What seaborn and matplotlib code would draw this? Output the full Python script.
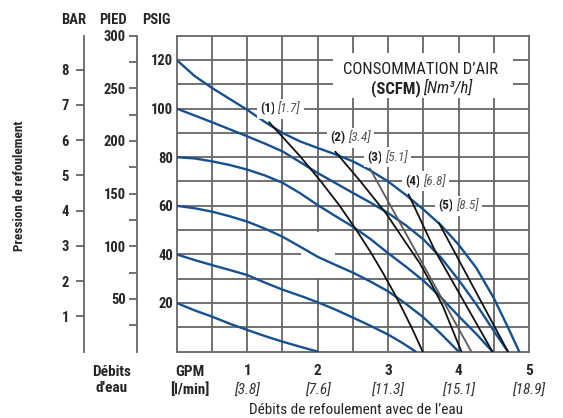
import matplotlib
matplotlib.use("Agg")
import matplotlib.pyplot as plt
from matplotlib import font_manager
from matplotlib.patches import Rectangle
from matplotlib.ticker import FixedLocator
import numpy as np
import seaborn as sns

# pump curves, one per air inlet pressure (psig) : flow in GPM, outlet pressure in PSIG
gpm_120 = [0, 0.25, 0.5, 0.75, 1.0, 1.25, 1.5, 1.75, 2.0, 2.25, 2.5, 2.75, 3.0, 3.25, 3.5, 3.75, 4.0, 4.25, 4.5, 4.7, 4.86]
psi_120 = [120, 113.5, 108.5, 104, 99.5, 94.5, 90, 86.5, 83.8, 81.2, 78.3, 74.5, 70, 64.5, 58.5, 52, 44, 34.5, 22, 10, 0]
gpm_100 = [0, 0.25, 0.5, 0.75, 1.0, 1.25, 1.5, 1.75, 2.0, 2.25, 2.5, 2.75, 3.0, 3.25, 3.5, 3.75, 4.0, 4.25, 4.5, 4.7]
psi_100 = [100, 97.2, 94.4, 91.5, 88.6, 85.6, 82.4, 78, 73.5, 69.4, 65.3, 61.3, 57, 52, 46.2, 38.7, 29.5, 19.5, 8.5, 0]
gpm_80 = [0, 0.25, 0.5, 0.75, 1.0, 1.25, 1.5, 1.75, 2.0, 2.25, 2.5, 2.75, 3.0, 3.25, 3.5, 3.75, 4.0, 4.25, 4.48]
psi_80 = [80, 79.5, 78.3, 76.8, 74.9, 72.5, 69.5, 65.2, 60.3, 55.8, 51.4, 46.3, 40.5, 35, 29.2, 22.3, 14.6, 7.3, 0]
gpm_60 = [0, 0.25, 0.5, 0.75, 1.0, 1.25, 1.5, 1.75, 2.0, 2.25, 2.5, 2.75, 3.0, 3.25, 3.5, 3.75, 4.0]
psi_60 = [60, 59, 57.6, 55.7, 53.5, 50.6, 47.3, 43.2, 39, 35.7, 32.5, 28.8, 24.8, 19.7, 14.1, 7.3, 0]
gpm_40 = [0, 0.25, 0.5, 0.75, 1.0, 1.25, 1.5, 1.75, 2.0, 2.25, 2.5, 2.75, 3.0, 3.2, 3.39]
psi_40 = [40, 37.7, 35.6, 33.6, 31.5, 28.4, 25.5, 23, 20.3, 17.3, 14, 10.6, 7, 3.6, 0]
gpm_20 = [0, 0.25, 0.5, 0.75, 1.0, 1.25, 1.5, 1.75, 2.0]
psi_20 = [20, 17, 14.4, 11.5, 8.9, 6.4, 4.1, 2, 0]

# air consumption lines (1)..(5)
gpm_air1 = [1.31, 1.5, 1.75, 2.03, 2.3, 2.55, 2.75, 2.93, 3.1, 3.21, 3.35, 3.49]
psi_air1 = [94.4, 88.4, 80.4, 70.6, 60.5, 50, 41, 32.2, 23.3, 17.1, 8.9, 0]
gpm_air2 = [2.25, 2.6, 2.97, 3.2, 3.45, 3.62, 3.78, 4.04]
psi_air2 = [82.3, 70.3, 56.9, 47, 36.3, 27.5, 18.5, 0]
gpm_air3 = [2.74, 4.18]
psi_air3 = [75.4, 0]
gpm_air4 = [3.29, 3.66, 4.48]
psi_air4 = [64.7, 41.8, 0]
gpm_air5 = [3.72, 4.70]
psi_air5 = [53, 0]

air_scfm = ["(1)", "(2)", "(3)", "(4)", "(5)"]
air_nm3 = ["[1.7]", "[3.4]", "[5.1]", "[6.8]", "[8.5]"]
label_gpm = [1.41, 2.41, 2.93, 3.47, 3.94]
label_psi = [100, 88, 80, 70, 60]

gpm_ticks = [1, 2, 3, 4, 5]
lpm_labels = ["[3.8]", "[7.6]", "[11.3]", "[15.1]", "[18.9]"]
psig_ticks = [20, 40, 60, 80, 100, 120]
ft_major = [50, 100, 150, 200, 250, 300]
ft_minor = [25, 75, 125, 175, 225, 275]
bar_ticks = [1, 2, 3, 4, 5, 6, 7, 8]

sns.set_theme(style="white")
names = {f.name for f in font_manager.fontManager.ttflist}
narrow = next((n for n in ["Liberation Sans Narrow", "Roboto Condensed", "Liberation Sans"] if n in names), "DejaVu Sans")
plt.rcParams["font.family"] = [narrow, "DejaVu Sans"]

grid_c = "#666666"
blue = "#17508e"

fig = plt.figure(figsize=(5.63, 4.18), dpi=100)
ax = fig.add_axes([0.3139, 0.1589, 0.6258, 0.7557])
ax.set_xlim(0, 5)
ax.set_ylim(0, 130)

for s in ax.spines.values():
    s.set_color(grid_c)
    s.set_linewidth(1.3)
ax.set_yticks(psig_ticks, [str(t) for t in psig_ticks], fontweight="bold", fontsize=10.5)
ax.set_xticks(gpm_ticks, [str(t) for t in gpm_ticks], fontweight="bold", fontsize=11)
ax.tick_params(which="both", length=0)
ax.tick_params(axis="y", pad=2.5)
ax.tick_params(axis="x", pad=9)
for x, lab in zip(gpm_ticks, lpm_labels):
    ax.text(x, -0.125, lab, transform=ax.get_xaxis_transform(), ha="center", va="center",
            style="italic", fontsize=11, color="#333333")

# feet and bar scales
sec_ft = ax.secondary_yaxis(-0.1135, functions=(lambda p: p * 300 / 130, lambda f: f * 130 / 300))
sec_ft.set_yticks(ft_major, [str(t) for t in ft_major], fontweight="bold", fontsize=10.5)
sec_ft.yaxis.set_minor_locator(FixedLocator(ft_minor))
sec_ft.tick_params(which="both", direction="out", length=6, width=1.3, color=grid_c, pad=2)
sec_ft.spines["left"].set_color(grid_c)
sec_ft.spines["left"].set_linewidth(1.3)
sec_ft.patch.set_visible(False)

sec_bar = ax.secondary_yaxis(-0.2623, functions=(lambda p: p / 14.5, lambda b: b * 14.5))
sec_bar.set_yticks(bar_ticks, [str(t) for t in bar_ticks], fontweight="bold", fontsize=10.5)
sec_bar.tick_params(which="both", direction="out", length=6, width=1.3, color=grid_c, pad=5)
sec_bar.spines["left"].set_color(grid_c)
sec_bar.spines["left"].set_linewidth(1.3)
sec_bar.patch.set_visible(False)

# grid every 0.5 GPM and 10 PSIG
for gx in np.arange(0.5, 5, 0.5):
    ax.axvline(gx, color=grid_c, lw=1.3, zorder=2.9)
for gy in np.arange(10, 130, 10):
    ax.axhline(gy, color=grid_c, lw=1.3, zorder=2.9)

# white patch present in the original scan
ax.add_patch(Rectangle((0.353, 0.232), 0.096, 0.148, transform=ax.transAxes,
                       fc="white", ec="none", zorder=2.95))

for gx, gy in [(gpm_120, psi_120), (gpm_100, psi_100), (gpm_80, psi_80),
               (gpm_60, psi_60), (gpm_40, psi_40), (gpm_20, psi_20)]:
    sns.lineplot(x=gx, y=gy, ax=ax, color=blue, lw=1.7, sort=False, estimator=None, zorder=3.5)

for gx, gy, c in [(gpm_air1, psi_air1, "#111111"), (gpm_air2, psi_air2, "#111111"),
                  (gpm_air3, psi_air3, "#5a5a5a"), (gpm_air4, psi_air4, "#111111"),
                  (gpm_air5, psi_air5, "#111111")]:
    sns.lineplot(x=gx, y=gy, ax=ax, color=c, lw=1.3, sort=False, estimator=None, zorder=4)

box = dict(fc="white", ec="none", pad=2.5)
for num, nm3, x, y in zip(air_scfm, air_nm3, label_gpm, label_psi):
    ax.text(x - 0.01, y, num, ha="right", va="center", fontweight="bold", fontsize=9.5,
            color="#222222", bbox=box, zorder=5)
    ax.text(x + 0.02, y, nm3, ha="left", va="center", style="italic", fontsize=9.5,
            color="#555555", bbox=box, zorder=5)

# air consumption title, on a white block
ax.add_patch(Rectangle((0.4437, 0.8028), 0.511, 0.1425, transform=ax.transAxes,
                       fc="white", ec="none", zorder=5))
ax.text(3.46, 116, "CONSOMMATION D\u2019AIR", ha="center", va="center", fontsize=12,
        color="#222222", zorder=6)
ax.text(3.46, 108.4, "(SCFM)", ha="right", va="center", fontsize=12, fontweight="bold",
        color="#222222", zorder=6)
ax.text(3.50, 108.4, "[Nm\u00b3/h]", ha="left", va="center", fontsize=12, style="italic",
        color="#222222", zorder=6)

ax.set_xlabel("Débits de refoulement avec de l\u2019eau", fontsize=11, color="#222222", va="center")
ax.xaxis.set_label_coords(0.51, -0.185)
ax.set_ylabel("")

for x, t in [(74, "BAR"), (113, "PIED"), (156, "PSIG")]:
    fig.text(x / 563, 1 - 20 / 418, t, ha="center", va="center", fontweight="bold", fontsize=10.5)

fig.text(112 / 563, 1 - 380 / 418, "Débits\nd'eau", ha="center", va="center",
         fontweight="bold", fontsize=11, linespacing=1.2)
fig.text(190 / 563, 1 - 381 / 418, "GPM\n[l/min]", ha="center", va="center",
         fontweight="bold", fontsize=11, linespacing=1.2)
fig.text(20 / 563, 1 - 186 / 418, "Pression de refoulement", rotation=90, ha="center",
         va="center", fontweight="bold", fontsize=9.5)

fig.savefig("out.png", dpi=100)
